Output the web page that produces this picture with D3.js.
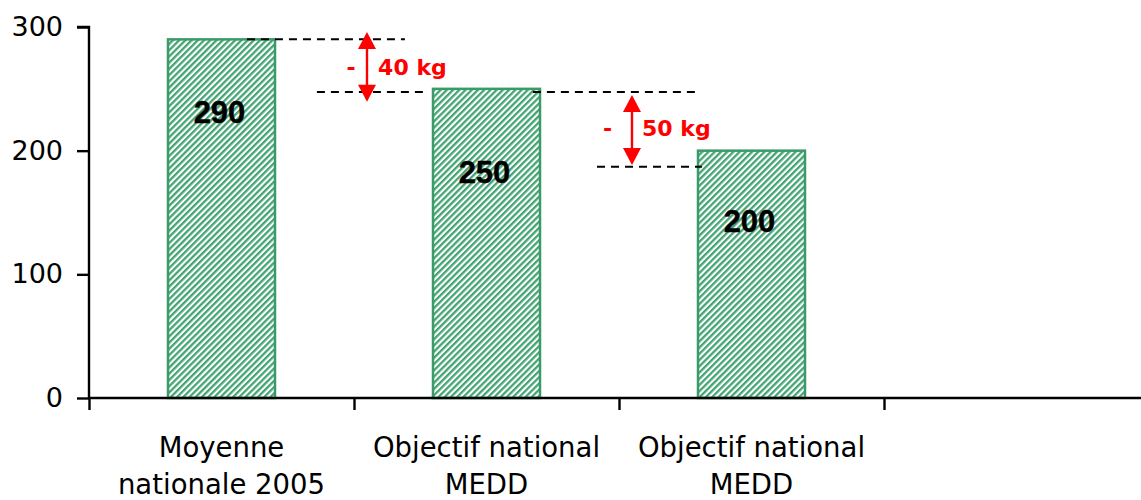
<!DOCTYPE html>
<html><head><meta charset="utf-8">
<script src="https://cdn.jsdelivr.net/npm/d3@7/dist/d3.min.js"></script>
<style>html,body{margin:0;padding:0;background:#fff;}svg{display:block;}</style>
</head><body>
<svg id="chart" width="1141" height="500"></svg>
<script>
// ---- data ----
const categories = [["Moyenne", "nationale 2005"], ["Objectif national", "MEDD"], ["Objectif national", "MEDD"], [""]];
const values = [290, 250, 200];
const valueLabelPos = [222, 174, 134];      // where the value labels sit (data units)
const yTicks = [0, 100, 200, 300];
// annotations (x in category units, y in data units)
const dashLines = [
  {x0: 0.596, x1: 1.192, v: 290},
  {x0: 0.860, x1: 1.268, v: 247.5},
  {x0: 1.675, x1: 2.287, v: 247.5},
  {x0: 1.917, x1: 2.313, v: 187}
];
const arrows = [
  {x: 1.049, v0: 296, v1: 239.5},
  {x: 2.049, v0: 245, v1: 188.5}
];
const notes = [
  {dashX: 0.989, x: 1.091, v: 261, text: "40 kg"},
  {dashX: 1.957, x: 2.087, v: 212, text: "50 kg"}
];

// ---- layout ----
const svg = d3.select("#chart");
const x0 = 89, step = 265;
const xLin = d3.scaleLinear().domain([0, categories.length]).range([x0, x0 + step * categories.length]);
const y = d3.scaleLinear().domain([0, 300]).range([398, 27]);
const barW = 107;
const green = "#3a9b69";

const defs = svg.append("defs");
const pat = defs.append("pattern").attr("id", "hatch").attr("patternUnits", "userSpaceOnUse")
  .attr("width", 4.4).attr("height", 4.4).attr("patternTransform", "rotate(45)");
pat.append("rect").attr("width", 4.4).attr("height", 4.4).attr("fill", "#fff");
pat.append("rect").attr("width", 2.3).attr("height", 4.4).attr("fill", "#44a473");

// bars
svg.append("g").selectAll("rect").data(values).join("rect")
  .attr("x", (d, i) => xLin(i + 0.5) - barW / 2)
  .attr("y", d => y(d))
  .attr("width", barW)
  .attr("height", d => y(0) - y(d))
  .attr("fill", "url(#hatch)")
  .attr("stroke", green).attr("stroke-width", 2.5);

// value labels
svg.append("g").selectAll("text").data(values).join("text")
  .attr("x", (d, i) => xLin(i + 0.5) - 2)
  .attr("y", (d, i) => y(valueLabelPos[i]))
  .attr("text-anchor", "middle")
  .attr("font-family", "'Liberation Sans', Arial, sans-serif")
  .attr("font-weight", "bold").attr("font-size", 31).attr("fill", "#000")
  .attr("stroke", "#000").attr("stroke-width", 0.4)
  .text(d => d);

// y axis
const yAxis = d3.axisLeft(y).tickValues(yTicks).tickSize(12).tickPadding(14).tickFormat(d3.format("d"));
const gy = svg.append("g").attr("transform", `translate(${x0},0)`).call(yAxis);
gy.select(".domain").attr("stroke", "#000").attr("stroke-width", 2.4).attr("d", `M-12,${y(300)}H0V${y(0)}`);
gy.selectAll(".tick line").attr("stroke", "#000").attr("stroke-width", 2.4);
gy.selectAll(".tick text").attr("font-family", "Verdana, 'DejaVu Sans', sans-serif").attr("font-size", 27).attr("fill", "#000");

// x axis (ticks between categories)
const xAxis = d3.axisBottom(xLin).tickValues(d3.range(categories.length + 1)).tickSize(12).tickFormat("");
const gx = svg.append("g").attr("transform", `translate(0,${y(0)})`).call(xAxis);
gx.select(".domain").attr("stroke", "#000").attr("stroke-width", 2.4).attr("d", `M${x0},0H${xLin(categories.length)}`);
gx.selectAll(".tick line").attr("stroke", "#000").attr("stroke-width", 2.4);

// category labels
const cl = svg.append("g").selectAll("text").data(categories).join("text")
  .attr("x", (d, i) => xLin(i + 0.5))
  .attr("y", 457)
  .attr("text-anchor", "middle")
  .attr("font-family", "Verdana, 'DejaVu Sans', sans-serif")
  .attr("font-size", 27.5).attr("fill", "#000");
cl.selectAll("tspan").data(d => d).join("tspan")
  .attr("x", function () { return d3.select(this.parentNode).attr("x"); })
  .attr("dy", (d, i) => i === 0 ? 0 : 37)
  .text(d => d);

// dashed guide lines
svg.append("g").selectAll("line").data(dashLines).join("line")
  .attr("x1", d => xLin(d.x0)).attr("x2", d => xLin(d.x1))
  .attr("y1", d => y(d.v)).attr("y2", d => y(d.v))
  .attr("stroke", "#000").attr("stroke-width", 2).attr("stroke-dasharray", "8,6");

// arrows
const red = "#ff0000";
const ag = svg.append("g");
arrows.forEach(a => {
  const ax = xLin(a.x), ty = y(a.v0), by = y(a.v1), hw = 9, hh = 17;
  ag.append("line").attr("x1", ax).attr("x2", ax).attr("y1", ty + hh - 2).attr("y2", by - hh + 2)
    .attr("stroke", red).attr("stroke-width", 2.4);
  ag.append("path").attr("d", `M${ax},${ty}L${ax - hw},${ty + hh}L${ax + hw},${ty + hh}Z`).attr("fill", red);
  ag.append("path").attr("d", `M${ax},${by}L${ax - hw},${by - hh}L${ax + hw},${by - hh}Z`).attr("fill", red);
});

// annotation texts
const ng = svg.append("g").attr("font-family", "Verdana, 'DejaVu Sans', sans-serif")
  .attr("font-weight", "bold").attr("font-size", 22).attr("fill", red);
notes.forEach(n => {
  ng.append("text").attr("x", xLin(n.dashX)).attr("y", y(n.v)).attr("text-anchor", "middle").text("-");
  ng.append("text").attr("x", xLin(n.x)).attr("y", y(n.v)).text(n.text);
});
</script>
</body></html>
